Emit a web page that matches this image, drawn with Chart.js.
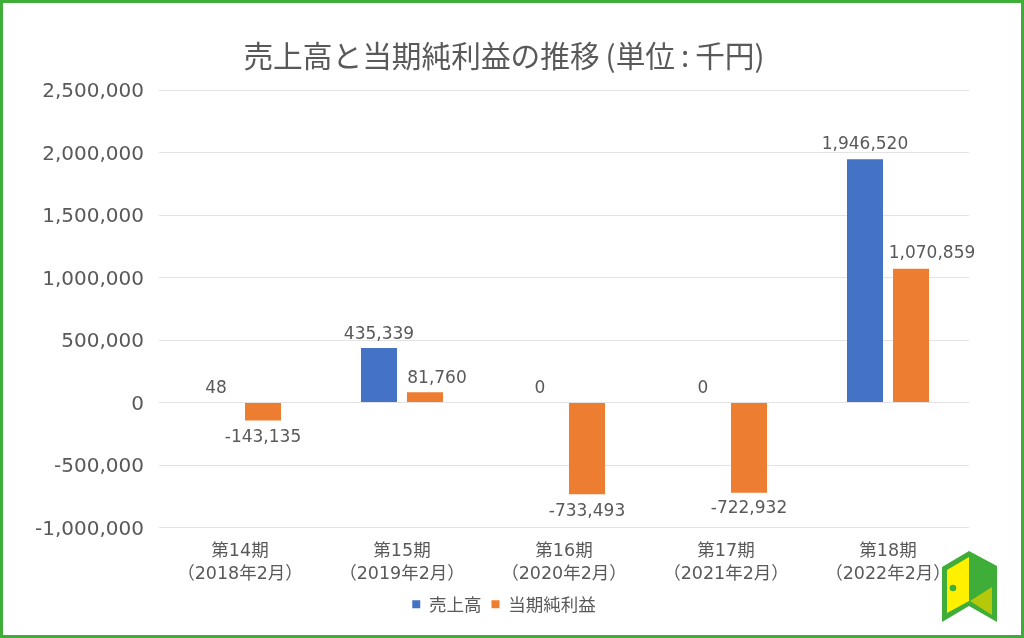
<!DOCTYPE html>
<html><head><meta charset="utf-8">
<style>
html,body{margin:0;padding:0;background:#fff;}
#wrap{position:relative;width:1024px;height:638px;overflow:hidden;}
#frame{position:absolute;inset:0;border:3px solid #3fae38;box-sizing:border-box;pointer-events:none;}
canvas{position:absolute;left:0;top:0;}
#logo{position:absolute;left:0;top:0;}
</style>
<script src="https://cdn.jsdelivr.net/npm/chart.js@4"></script>
</head><body>
<div id="wrap"><canvas id="c" width="1024" height="638"></canvas>
<svg id="logo" width="1024" height="638" viewBox="0 0 1024 638">
<polygon points="942,567 969,551 997,566 997,622 969,606 942,622" fill="#3fae38"/>
<polygon points="947,570 969,557 969,601 947,613" fill="#fff000"/>
<polygon points="970,601 992,587 992,615" fill="#b5c90a"/>
<circle cx="953" cy="588" r="3.3" fill="#3fae38"/>
</svg>
<div id="frame"></div></div>
<script>
const categories=[["第14期","（2018年2月）"],["第15期","（2019年2月）"],["第16期","（2020年2月）"],["第17期","（2021年2月）"],["第18期","（2022年2月）"]];
const seriesNames=["売上高","当期純利益"];
const sales=[48,435339,0,0,1946520];
const profit=[-143135,81760,-733493,-722932,1070859];
const tickMin=-1000000, tickMax=2500000, tickStep=500000;
const titleText="売上高と当期純利益の推移\u2009(単位\u2009:\u2009千円)";
const salesLabelShift=[[-1,-14],[0,-14],[-1,-14],[0,-14],[0,-15]];
const profitLabelShift=[[0,17],[12,-14],[0,17],[0,16],[21,-15]];

const latin="'DejaVu Sans','Noto Sans CJK JP',sans-serif";
const cjk="'Noto Sans CJK JP',sans-serif";
const grey="#595959";
const seriesColors=["#4472c4","#ed7d31"];
const fmt=v=>v.toLocaleString("en-US");
const hideTiny=color=>ctx=>Math.abs(ctx.raw)<1000?"transparent":color;

const labelPlugin={id:"valueLabels",
 afterLayout(chart){chart.scales.y.left=20;},
 afterDatasetsDraw(chart){
  const g=chart.ctx;g.save();g.font="17px "+latin;g.fillStyle=grey;g.textAlign="center";g.textBaseline="middle";
  [sales,profit].forEach((arr,d)=>{
    const meta=chart.getDatasetMeta(d);
    const shifts=d===0?salesLabelShift:profitLabelShift;
    arr.forEach((v,i)=>{const el=meta.data[i];
      g.fillText(fmt(v),el.x+shifts[i][0],el.y+shifts[i][1]);});
  });
  g.restore();
}};

new Chart(document.getElementById("c"),{
  type:"bar",
  data:{labels:categories,datasets:[
    {label:seriesNames[0],data:sales,backgroundColor:hideTiny(seriesColors[0]),barPercentage:0.783,categoryPercentage:0.568,inflateAmount:0},
    {label:seriesNames[1],data:profit,backgroundColor:seriesColors[1],barPercentage:0.783,categoryPercentage:0.568,inflateAmount:0}
  ]},
  options:{
    responsive:false,animation:false,
    layout:{padding:{left:39,right:55,top:0,bottom:15}},
    plugins:{
      title:{display:true,text:titleText,color:grey,font:{family:cjk,size:29.7,weight:"normal",lineHeight:1.2},padding:{top:38,bottom:16.4}},
      legend:{display:true,position:"bottom",labels:{boxWidth:8,boxHeight:8,color:grey,font:{family:cjk,size:17.5},padding:10,
        generateLabels:()=>seriesNames.map((n,i)=>({text:n,fillStyle:seriesColors[i],strokeStyle:seriesColors[i],lineWidth:0,fontColor:grey,datasetIndex:i,hidden:false}))}},
      tooltip:{enabled:false}
    },
    scales:{
      x:{grid:{display:false},border:{display:false},ticks:{color:grey,font:{family:latin,size:17.5,lineHeight:1.3},maxRotation:0,autoSkip:false,padding:5},
         afterFit(s){s.height=58;}},
      y:{min:tickMin,max:tickMax,grid:{color:"#e3e3e3",lineWidth:1,drawTicks:false},border:{display:false},
         ticks:{stepSize:tickStep,color:grey,font:{family:latin,size:20},padding:15,labelOffset:2,callback:v=>fmt(v)},
         afterFit(s){s.width=120;}}
    }
  },
  plugins:[labelPlugin]
});
</script>
</body></html>
